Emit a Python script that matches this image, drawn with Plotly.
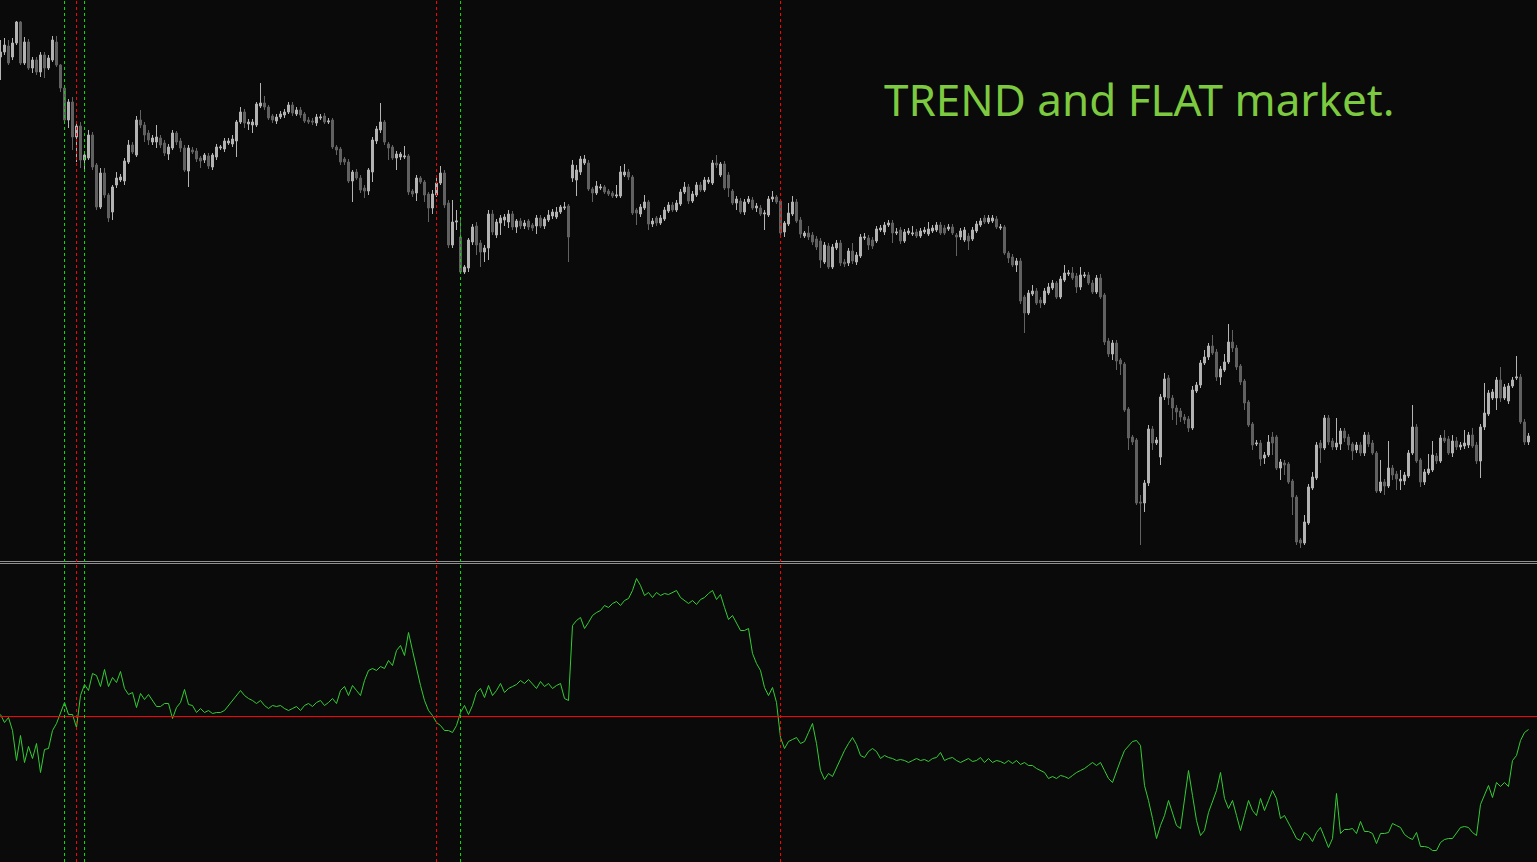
import plotly.graph_objects as go

# ---------------- data (prices in points, indicator in its own units) ----------------
opens = [
543, 548, 554, 543, 557, 578, 537, 558, 532, 540,
528, 545, 532, 540, 558, 535, 512, 480, 498, 463,
474, 440, 442, 465, 435, 393, 427, 405, 388, 415,
420, 419, 438, 455, 445, 480, 475, 467, 458, 458,
462, 457, 446, 452, 467, 459, 452, 429, 450, 449,
442, 440, 444, 433, 443, 452, 451, 457, 456, 459,
478, 488, 476, 475, 475, 494, 497, 493, 484, 479,
483, 485, 488, 495, 486, 490, 486, 480, 479, 477,
482, 484, 478, 480, 453, 451, 441, 438, 419, 428,
422, 412, 409, 428, 459, 470, 478, 456, 453, 442,
443, 443, 444, 409, 407, 422, 418, 406, 392, 405,
417, 427, 397, 355, 378, 363, 328, 332, 358, 374,
357, 348, 352, 386, 365, 377, 380, 378, 386, 373,
379, 374, 379, 375, 374, 382, 374, 380, 384, 383,
388, 392, 394, 422, 420, 428, 437, 437, 411, 407,
412, 413, 409, 407, 404, 404, 425, 428, 423, 390,
386, 392, 398, 376, 382, 377, 381, 389, 395, 390,
396, 408, 413, 399, 405, 415, 410, 418, 417, 437,
425, 436, 425, 409, 397, 399, 388, 398, 400, 392,
392, 386, 385, 401, 403, 399, 368, 376, 386, 398,
380, 364, 367, 365, 361, 359, 338, 354, 333, 352,
357, 338, 337, 349, 338, 344, 362, 362, 360, 359,
370, 368, 375, 377, 367, 370, 359, 367, 366, 368,
364, 368, 366, 369, 370, 375, 372, 371, 373, 365,
363, 360, 364, 361, 369, 375, 382, 378, 379, 381,
372, 373, 347, 343, 335, 339, 303, 287, 306, 309,
300, 297, 307, 312, 317, 303, 320, 326, 327, 324,
313, 324, 325, 317, 308, 322, 305, 259, 246, 257,
240, 236, 191, 163, 160, 98, 97, 117, 171, 157,
143, 203, 222, 202, 192, 189, 183, 181, 172, 209,
215, 237, 243, 254, 248, 223, 230, 238, 258, 252,
234, 219, 198, 176, 156, 157, 142, 145, 163, 163,
132, 137, 136, 119, 103, 60, 57, 77, 112, 122,
157, 152, 182, 159, 153, 156, 169, 163, 156, 150,
155, 147, 165, 157, 147, 109, 118, 114, 132, 126,
119, 119, 124, 147, 173, 140, 118, 127, 130, 144,
139, 162, 161, 147, 159, 153, 154, 155, 165, 155,
139, 173, 186, 202, 202, 220, 202, 199, 214, 222,
223, 178, 158,
]

closes = [
548, 555, 537, 557, 578, 537, 558, 532, 540, 528,
545, 532, 542, 560, 535, 512, 480, 498, 463, 474,
440, 445, 465, 433, 393, 427, 405, 382, 413, 422,
423, 439, 455, 448, 480, 475, 465, 460, 462, 463,
455, 447, 453, 467, 458, 452, 430, 452, 448, 441,
439, 445, 434, 445, 453, 453, 459, 459, 461, 478,
488, 477, 478, 478, 496, 497, 493, 482, 480, 483,
486, 488, 495, 487, 490, 485, 479, 478, 478, 483,
483, 478, 479, 453, 450, 438, 438, 419, 428, 422,
410, 409, 430, 460, 471, 478, 458, 452, 442, 446,
446, 444, 408, 406, 422, 418, 405, 392, 406, 417,
427, 395, 355, 378, 379, 328, 333, 360, 373, 355,
348, 352, 386, 368, 378, 382, 383, 386, 373, 379,
374, 377, 373, 372, 382, 374, 381, 385, 388, 388,
393, 393, 363, 435, 430, 441, 441, 411, 407, 414,
413, 408, 406, 404, 405, 428, 428, 423, 387, 387,
393, 398, 376, 379, 377, 382, 390, 395, 390, 397,
408, 413, 399, 406, 415, 410, 420, 420, 437, 435,
436, 412, 412, 397, 401, 388, 398, 401, 392, 394,
386, 387, 401, 403, 398, 367, 377, 387, 398, 379,
366, 367, 363, 358, 353, 340, 355, 333, 353, 357,
337, 336, 349, 339, 345, 363, 363, 355, 354, 371,
372, 375, 377, 367, 368, 359, 368, 369, 367, 364,
369, 370, 371, 372, 375, 367, 367, 373, 367, 363,
369, 370, 359, 370, 376, 379, 378, 382, 382, 373,
373, 347, 342, 335, 339, 299, 287, 307, 309, 297,
297, 309, 313, 317, 303, 321, 327, 327, 322, 313,
325, 325, 317, 308, 322, 303, 258, 246, 257, 239,
236, 190, 162, 158, 97, 97, 117, 171, 157, 160,
203, 221, 202, 192, 188, 183, 180, 172, 210, 215,
237, 243, 254, 247, 223, 231, 238, 258, 252, 233,
218, 197, 175, 155, 157, 141, 145, 158, 157, 132,
138, 135, 118, 103, 58, 57, 78, 113, 123, 155,
152, 182, 158, 153, 157, 169, 162, 155, 149, 155,
147, 165, 156, 147, 109, 118, 114, 132, 125, 121,
121, 125, 147, 173, 139, 118, 128, 131, 145, 139,
162, 159, 147, 159, 153, 155, 157, 165, 154, 139,
173, 187, 207, 208, 220, 202, 213, 214, 220, 223,
178, 158, 164,
]

highs = [
560, 562, 560, 562, 579, 579, 563, 561, 543, 543,
548, 548, 545, 564, 564, 536, 513, 501, 503, 476,
478, 448, 470, 468, 437, 432, 432, 407, 415, 428,
426, 442, 460, 458, 484, 490, 478, 470, 465, 475,
465, 460, 456, 470, 469, 462, 455, 455, 453, 452,
444, 447, 447, 447, 456, 455, 462, 462, 465, 480,
493, 491, 481, 481, 498, 517, 504, 495, 486, 486,
489, 491, 498, 498, 493, 493, 488, 483, 482, 486,
486, 487, 482, 482, 455, 453, 443, 441, 430, 431,
425, 415, 432, 463, 474, 497, 480, 458, 455, 449,
448, 454, 446, 411, 425, 424, 420, 408, 410, 424,
434, 430, 400, 400, 390, 380, 335, 362, 376, 378,
360, 355, 390, 390, 381, 385, 386, 390, 389, 381,
382, 380, 381, 377, 385, 385, 383, 390, 391, 393,
395, 398, 396, 440, 435, 444, 445, 440, 413, 419,
416, 415, 411, 409, 415, 434, 436, 431, 425, 392,
396, 405, 400, 382, 384, 385, 393, 398, 398, 400,
411, 418, 416, 409, 418, 418, 423, 423, 440, 445,
438, 439, 428, 411, 404, 402, 401, 404, 403, 397,
395, 390, 404, 409, 405, 401, 379, 397, 404, 401,
383, 369, 374, 368, 364, 362, 358, 357, 356, 360,
360, 341, 352, 357, 348, 366, 367, 365, 363, 374,
375, 378, 380, 380, 372, 373, 371, 372, 374, 371,
372, 373, 378, 375, 378, 378, 375, 376, 376, 367,
372, 373, 367, 373, 379, 382, 385, 385, 385, 384,
376, 375, 349, 346, 342, 342, 305, 310, 315, 312,
303, 312, 317, 320, 319, 324, 335, 330, 333, 327,
333, 328, 328, 320, 325, 326, 307, 262, 260, 260,
242, 238, 193, 165, 162, 105, 120, 175, 174, 163,
206, 227, 225, 205, 195, 192, 186, 184, 214, 218,
240, 250, 257, 265, 251, 234, 246, 276, 270, 255,
236, 221, 200, 178, 160, 160, 148, 165, 168, 165,
141, 140, 138, 121, 105, 62, 85, 116, 128, 158,
160, 185, 185, 162, 182, 172, 172, 166, 158, 158,
158, 168, 168, 160, 149, 140, 121, 159, 135, 129,
130, 128, 150, 195, 176, 142, 131, 146, 159, 147,
165, 170, 164, 165, 163, 158, 170, 168, 172, 158,
176, 217, 210, 211, 223, 233, 216, 217, 223, 244,
226, 181, 167,
]

lows = [
520, 545, 535, 540, 555, 535, 535, 530, 527, 525,
523, 522, 530, 538, 533, 508, 478, 472, 450, 438,
432, 428, 440, 430, 390, 391, 402, 378, 380, 412,
418, 415, 436, 446, 443, 472, 458, 455, 455, 452,
452, 444, 440, 450, 455, 448, 428, 413, 446, 438,
432, 437, 431, 430, 440, 450, 448, 455, 453, 443,
476, 472, 470, 467, 473, 492, 490, 480, 477, 476,
481, 482, 486, 484, 484, 482, 477, 476, 475, 474,
480, 476, 476, 451, 445, 435, 435, 417, 398, 420,
407, 402, 405, 418, 456, 467, 455, 440, 440, 430,
440, 441, 405, 403, 399, 416, 398, 378, 386, 403,
415, 392, 352, 352, 370, 326, 326, 328, 355, 345,
333, 338, 340, 365, 362, 365, 374, 372, 370, 367,
371, 371, 370, 369, 366, 372, 371, 378, 381, 381,
386, 390, 338, 418, 404, 425, 435, 409, 398, 405,
410, 406, 404, 402, 402, 402, 423, 420, 385, 375,
383, 390, 370, 373, 374, 375, 379, 387, 388, 388,
394, 406, 396, 397, 403, 408, 408, 416, 415, 432,
423, 410, 403, 395, 390, 386, 385, 396, 390, 388,
384, 370, 383, 398, 396, 365, 363, 374, 384, 377,
362, 362, 360, 355, 350, 332, 336, 331, 331, 350,
334, 333, 334, 336, 335, 342, 360, 350, 351, 357,
368, 365, 373, 357, 365, 356, 357, 365, 364, 362,
362, 366, 364, 367, 368, 365, 365, 369, 365, 344,
360, 358, 350, 359, 367, 373, 376, 376, 377, 371,
370, 345, 337, 333, 328, 296, 267, 285, 304, 295,
292, 295, 305, 310, 301, 301, 318, 324, 320, 307,
310, 322, 315, 306, 306, 301, 255, 243, 240, 230,
225, 188, 150, 155, 95, 55, 88, 114, 150, 155,
135, 200, 195, 180, 175, 178, 176, 168, 170, 207,
212, 235, 240, 245, 219, 215, 228, 236, 248, 230,
215, 190, 173, 150, 154, 134, 136, 143, 145, 130,
120, 125, 116, 85, 55, 52, 55, 75, 110, 120,
137, 150, 155, 150, 150, 150, 158, 150, 140, 147,
144, 144, 153, 145, 107, 107, 105, 112, 120, 110,
110, 115, 122, 145, 137, 113, 115, 125, 128, 136,
137, 157, 145, 143, 150, 150, 151, 152, 152, 136,
122, 170, 184, 200, 190, 198, 200, 196, 212, 220,
176, 155, 155,
]

indicator = [
2, -6, -1, -14, -44, -19, -46, -30, -42, -27,
-56, -33, -32, -14, -7, 3, 14, 2, 2, -11,
21, 32, 26, 43, 41, 30, 47, 30, 39, 34,
45, 28, 22, 24, 9, 23, 17, 22, 16, 10,
10, 13, 13, -2, 9, 14, 27, 12, 11, 4,
8, 4, 6, 3, 4, 4, 6, 11, 16, 21,
26, 21, 18, 16, 13, 16, 11, 8, 11, 10,
11, 8, 6, 8, 10, 6, 11, 13, 10, 14,
16, 11, 14, 18, 13, 26, 30, 21, 31, 26,
21, 36, 46, 48, 46, 50, 48, 56, 51, 66,
71, 61, 84, 66, 48, 31, 16, 6, 1, -6,
-9, -14, -14, -16, -9, 4, 11, 2, 11, 24,
28, 19, 31, 21, 26, 33, 24, 28, 30, 32,
36, 33, 37, 32, 28, 35, 30, 33, 28, 31,
33, 18, 16, 91, 96, 99, 88, 94, 101, 104,
106, 111, 109, 113, 115, 111, 116, 118, 126, 138,
131, 121, 124, 119, 124, 121, 123, 122, 124, 126,
119, 116, 113, 116, 112, 117, 119, 123, 126, 117,
122, 109, 97, 101, 93, 86, 86, 88, 63, 53,
46, 29, 21, 29, 14, -21, -32, -25, -23, -21,
-27, -25, -16, -7, -27, -54, -63, -57, -60, -51,
-42, -34, -27, -21, -28, -39, -41, -35, -32, -35,
-42, -39, -41, -42, -44, -43, -44, -46, -44, -42,
-44, -43, -45, -42, -41, -36, -44, -42, -41, -44,
-46, -44, -42, -45, -44, -41, -46, -42, -46, -44,
-45, -47, -44, -47, -44, -48, -46, -49, -49, -52,
-54, -56, -62, -60, -62, -59, -60, -62, -59, -56,
-54, -52, -49, -46, -49, -46, -54, -62, -66, -54,
-44, -34, -29, -25, -24, -29, -69, -84, -102, -122,
-109, -99, -84, -96, -109, -112, -84, -54, -79, -104,
-119, -114, -96, -84, -74, -56, -82, -92, -84, -99,
-114, -99, -84, -94, -99, -82, -94, -84, -74, -82,
-102, -99, -106, -114, -122, -124, -116, -119, -125, -116,
-111, -121, -131, -122, -77, -117, -113, -113, -112, -117,
-105, -115, -115, -117, -127, -117, -117, -116, -107, -109,
-111, -118, -121, -123, -116, -130, -130, -131, -134, -134,
-126, -123, -122, -122, -117, -111, -110, -111, -116, -119,
-88, -79, -69, -81, -66, -70, -66, -70, -44, -39,
-24, -16, -13,
]

trend_start_bars = [16, 21, 115]   # green dashed markers
trend_end_bars = [19, 109, 195]    # red dashed markers
zero_level = 0
title_text = "TREND and FLAT market."

# ---------------- figure ----------------
n = min(len(opens), len(closes), len(highs), len(lows))
bars = list(range(n))
m = len(indicator)

W, H = 1537, 862
BG = "#0a0a0a"
LIGHT = "#b4b4b4"
DARK = "#626262"
GREEN_LINE = "#33cc33"

fig = go.Figure()
fig.add_trace(go.Candlestick(
    x=bars, open=opens[:n], high=highs[:n], low=lows[:n], close=closes[:n],
    increasing=dict(line=dict(color=LIGHT, width=1), fillcolor=LIGHT),
    decreasing=dict(line=dict(color=DARK, width=1), fillcolor=DARK),
    whiskerwidth=0, hoverinfo="skip", xaxis="x", yaxis="y",
))
fig.add_trace(go.Scatter(
    x=list(range(m)), y=indicator, mode="lines",
    line=dict(color=GREEN_LINE, width=1), hoverinfo="skip",
    xaxis="x2", yaxis="y2",
))

shapes = []
# separator (double gray line)
for ypx in (561.5, 563.5):
    shapes.append(dict(type="line", xref="paper", yref="paper", x0=0, x1=1,
                       y0=1 - ypx / H, y1=1 - ypx / H,
                       line=dict(color="#8f8f8f", width=1)))
# zero level of the indicator
shapes.append(dict(type="line", xref="paper", yref="y2", x0=0, x1=1,
                   y0=zero_level, y1=zero_level, line=dict(color="#ff0000", width=1)))
for b in trend_start_bars:
    shapes.append(dict(type="line", xref="x", yref="paper", x0=b, x1=b, y0=0, y1=1,
                       line=dict(color="#00e000", width=1, dash="3px,3px"), layer="above"))
for b in trend_end_bars:
    shapes.append(dict(type="line", xref="x", yref="paper", x0=b, x1=b, y0=0, y1=1,
                       line=dict(color="#ff0000", width=1, dash="3px,3px"), layer="above"))

xr = [-0.125, 384.125]
fig.update_layout(
    width=W, height=H, margin=dict(l=0, r=0, t=0, b=0),
    paper_bgcolor=BG, plot_bgcolor=BG, showlegend=False, hovermode=False,
    xaxis=dict(domain=[0, 1], range=xr, visible=False, anchor="y",
               rangeslider=dict(visible=False), fixedrange=True),
    xaxis2=dict(domain=[0, 1], range=xr, visible=False, anchor="y2",
                matches="x", fixedrange=True),
    yaxis=dict(domain=[1 - 560 / H, 1], range=[40, 600], visible=False, fixedrange=True),
    yaxis2=dict(domain=[0, 1 - 564 / H], range=[-145.5, 152.5], visible=False, fixedrange=True),
    shapes=shapes,
    annotations=[dict(text=title_text, xref="paper", yref="paper",
                      x=882 / W, y=1 - 99 / H, xanchor="left", yanchor="middle",
                      showarrow=False,
                      font=dict(family="Noto Sans", size=44, color="#7dc940"))],
)

fig.write_html(
    "out.html",
    config={"displayModeBar": False, "staticPlot": True},
    post_script="document.body.style.margin='0';document.body.style.background='#0a0a0a';",
)
